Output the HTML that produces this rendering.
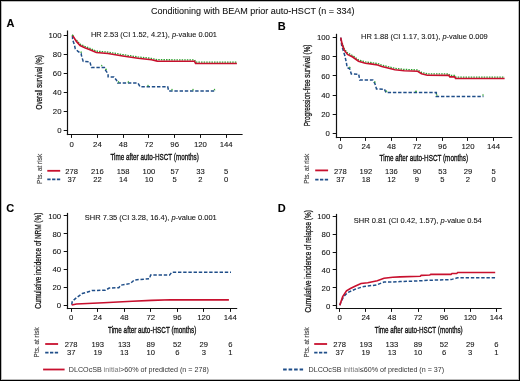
<!DOCTYPE html>
<html><head><meta charset="utf-8"><style>
html,body{margin:0;padding:0;background:#fff;}
#f{position:absolute;left:0;top:0;width:520px;height:381px;box-sizing:border-box;border:1px solid #000;box-shadow:inset 0 0 0 1px #bbb;overflow:hidden;background:#fff}
svg{position:absolute;left:0;top:0;will-change:transform}
text{font-family:"Liberation Sans",sans-serif;stroke:#000;stroke-width:0.08px;paint-order:stroke}
</style></head><body><div id="f"></div>
<svg width="520" height="381" viewBox="0 0 520 381">
<line x1="67.5" y1="30.5" x2="67.5" y2="135.1" stroke="#111" stroke-width="1.2" />
<line x1="66.9" y1="134.5" x2="242.6" y2="134.5" stroke="#111" stroke-width="1.2" />
<line x1="63.7" y1="130.5" x2="67.5" y2="130.5" stroke="#111" stroke-width="1" />
<text x="61.5" y="133.15" font-size="7.8" text-anchor="end" font-weight="normal" fill="#111" >0</text>
<line x1="63.7" y1="111.5" x2="67.5" y2="111.5" stroke="#111" stroke-width="1" />
<text x="61.5" y="114.17" font-size="7.8" text-anchor="end" font-weight="normal" fill="#111" >20</text>
<line x1="63.7" y1="92.5" x2="67.5" y2="92.5" stroke="#111" stroke-width="1" />
<text x="61.5" y="95.19" font-size="7.8" text-anchor="end" font-weight="normal" fill="#111" >40</text>
<line x1="63.7" y1="73.5" x2="67.5" y2="73.5" stroke="#111" stroke-width="1" />
<text x="61.5" y="76.21000000000001" font-size="7.8" text-anchor="end" font-weight="normal" fill="#111" >60</text>
<line x1="63.7" y1="54.5" x2="67.5" y2="54.5" stroke="#111" stroke-width="1" />
<text x="61.5" y="57.230000000000004" font-size="7.8" text-anchor="end" font-weight="normal" fill="#111" >80</text>
<line x1="63.7" y1="35.5" x2="67.5" y2="35.5" stroke="#111" stroke-width="1" />
<text x="61.5" y="38.25" font-size="7.8" text-anchor="end" font-weight="normal" fill="#111" >100</text>
<line x1="71.5" y1="134.5" x2="71.5" y2="137.9" stroke="#111" stroke-width="1" />
<text x="71.7" y="146.6" font-size="7.8" text-anchor="middle" font-weight="normal" fill="#111" >0</text>
<line x1="97.5" y1="134.5" x2="97.5" y2="137.9" stroke="#111" stroke-width="1" />
<text x="97.45" y="146.6" font-size="7.8" text-anchor="middle" font-weight="normal" fill="#111" >24</text>
<line x1="123.5" y1="134.5" x2="123.5" y2="137.9" stroke="#111" stroke-width="1" />
<text x="123.2" y="146.6" font-size="7.8" text-anchor="middle" font-weight="normal" fill="#111" >48</text>
<line x1="148.5" y1="134.5" x2="148.5" y2="137.9" stroke="#111" stroke-width="1" />
<text x="148.95" y="146.6" font-size="7.8" text-anchor="middle" font-weight="normal" fill="#111" >72</text>
<line x1="174.5" y1="134.5" x2="174.5" y2="137.9" stroke="#111" stroke-width="1" />
<text x="174.7" y="146.6" font-size="7.8" text-anchor="middle" font-weight="normal" fill="#111" >96</text>
<line x1="200.5" y1="134.5" x2="200.5" y2="137.9" stroke="#111" stroke-width="1" />
<text x="200.45" y="146.6" font-size="7.8" text-anchor="middle" font-weight="normal" fill="#111" >120</text>
<line x1="226.5" y1="134.5" x2="226.5" y2="137.9" stroke="#111" stroke-width="1" />
<text x="226.2" y="146.6" font-size="7.8" text-anchor="middle" font-weight="normal" fill="#111" >144</text>
<text x="6.4" y="26.8" font-size="11" text-anchor="start" font-weight="bold" fill="#000" >A</text>
<text x="91" y="36.8" font-size="7.5" text-anchor="start" font-weight="normal" fill="#111" textLength="126" lengthAdjust="spacingAndGlyphs" >HR 2.53 (CI 1.52, 4.21), <tspan font-style="italic">p</tspan>-value 0.001</text>
<text x="0" y="0" font-size="8.8" text-anchor="middle" fill="#111" style="stroke-width:0.25px" textLength="54.3" lengthAdjust="spacingAndGlyphs" transform="translate(42.4,82.25) rotate(-90)">Overall survival (%)</text>
<text x="110.4" y="159.9" font-size="9.8" text-anchor="start" font-weight="normal" fill="#111" textLength="88.4" lengthAdjust="spacingAndGlyphs" style="stroke-width:0.35px">Time after auto-HSCT (months)</text>
<text x="0" y="0" font-size="6.8" text-anchor="middle" fill="#444" style="stroke-width:0.15px;stroke:#444" textLength="30" lengthAdjust="spacingAndGlyphs" transform="translate(41.8,168.9) rotate(-90)">Pts. at risk</text>
<line x1="47.3" y1="170.8" x2="60.199999999999996" y2="170.8" stroke="#c8102e" stroke-width="1.8" />
<line x1="47.3" y1="179.4" x2="60.199999999999996" y2="179.4" stroke="#1f4e89" stroke-width="1.8" stroke-dasharray="3.3,1.5"/>
<text x="71.7" y="173.6" font-size="7.6" text-anchor="middle" font-weight="normal" fill="#111" >278</text>
<text x="71.7" y="182" font-size="7.6" text-anchor="middle" font-weight="normal" fill="#111" >37</text>
<text x="97.45" y="173.6" font-size="7.6" text-anchor="middle" font-weight="normal" fill="#111" >216</text>
<text x="97.45" y="182" font-size="7.6" text-anchor="middle" font-weight="normal" fill="#111" >22</text>
<text x="123.2" y="173.6" font-size="7.6" text-anchor="middle" font-weight="normal" fill="#111" >158</text>
<text x="123.2" y="182" font-size="7.6" text-anchor="middle" font-weight="normal" fill="#111" >14</text>
<text x="148.95" y="173.6" font-size="7.6" text-anchor="middle" font-weight="normal" fill="#111" >100</text>
<text x="148.95" y="182" font-size="7.6" text-anchor="middle" font-weight="normal" fill="#111" >10</text>
<text x="174.7" y="173.6" font-size="7.6" text-anchor="middle" font-weight="normal" fill="#111" >57</text>
<text x="174.7" y="182" font-size="7.6" text-anchor="middle" font-weight="normal" fill="#111" >5</text>
<text x="200.45" y="173.6" font-size="7.6" text-anchor="middle" font-weight="normal" fill="#111" >33</text>
<text x="200.45" y="182" font-size="7.6" text-anchor="middle" font-weight="normal" fill="#111" >2</text>
<text x="226.2" y="173.6" font-size="7.6" text-anchor="middle" font-weight="normal" fill="#111" >5</text>
<text x="226.2" y="182" font-size="7.6" text-anchor="middle" font-weight="normal" fill="#111" >0</text>
<line x1="336.5" y1="33.8" x2="336.5" y2="138.1" stroke="#111" stroke-width="1.2" />
<line x1="335.9" y1="137.5" x2="512.3" y2="137.5" stroke="#111" stroke-width="1.2" />
<line x1="332.7" y1="133.5" x2="336.5" y2="133.5" stroke="#111" stroke-width="1" />
<text x="329.90000000000003" y="135.95" font-size="7.8" text-anchor="end" font-weight="normal" fill="#111" >0</text>
<line x1="332.7" y1="114.5" x2="336.5" y2="114.5" stroke="#111" stroke-width="1" />
<text x="329.90000000000003" y="116.85" font-size="7.8" text-anchor="end" font-weight="normal" fill="#111" >20</text>
<line x1="332.7" y1="95.5" x2="336.5" y2="95.5" stroke="#111" stroke-width="1" />
<text x="329.90000000000003" y="97.75" font-size="7.8" text-anchor="end" font-weight="normal" fill="#111" >40</text>
<line x1="332.7" y1="75.5" x2="336.5" y2="75.5" stroke="#111" stroke-width="1" />
<text x="329.90000000000003" y="78.65" font-size="7.8" text-anchor="end" font-weight="normal" fill="#111" >60</text>
<line x1="332.7" y1="56.5" x2="336.5" y2="56.5" stroke="#111" stroke-width="1" />
<text x="329.90000000000003" y="59.55" font-size="7.8" text-anchor="end" font-weight="normal" fill="#111" >80</text>
<line x1="332.7" y1="37.5" x2="336.5" y2="37.5" stroke="#111" stroke-width="1" />
<text x="329.90000000000003" y="40.45" font-size="7.8" text-anchor="end" font-weight="normal" fill="#111" >100</text>
<line x1="340.5" y1="137.5" x2="340.5" y2="140.9" stroke="#111" stroke-width="1" />
<text x="340.4" y="148.9" font-size="7.8" text-anchor="middle" font-weight="normal" fill="#111" >0</text>
<line x1="365.5" y1="137.5" x2="365.5" y2="140.9" stroke="#111" stroke-width="1" />
<text x="365.91666666666663" y="148.9" font-size="7.8" text-anchor="middle" font-weight="normal" fill="#111" >24</text>
<line x1="391.5" y1="137.5" x2="391.5" y2="140.9" stroke="#111" stroke-width="1" />
<text x="391.43333333333334" y="148.9" font-size="7.8" text-anchor="middle" font-weight="normal" fill="#111" >48</text>
<line x1="416.5" y1="137.5" x2="416.5" y2="140.9" stroke="#111" stroke-width="1" />
<text x="416.95" y="148.9" font-size="7.8" text-anchor="middle" font-weight="normal" fill="#111" >72</text>
<line x1="442.5" y1="137.5" x2="442.5" y2="140.9" stroke="#111" stroke-width="1" />
<text x="442.46666666666664" y="148.9" font-size="7.8" text-anchor="middle" font-weight="normal" fill="#111" >96</text>
<line x1="467.5" y1="137.5" x2="467.5" y2="140.9" stroke="#111" stroke-width="1" />
<text x="467.98333333333335" y="148.9" font-size="7.8" text-anchor="middle" font-weight="normal" fill="#111" >120</text>
<line x1="493.5" y1="137.5" x2="493.5" y2="140.9" stroke="#111" stroke-width="1" />
<text x="493.5" y="148.9" font-size="7.8" text-anchor="middle" font-weight="normal" fill="#111" >144</text>
<text x="277.8" y="29.7" font-size="11" text-anchor="start" font-weight="bold" fill="#000" >B</text>
<text x="361" y="39.4" font-size="7.5" text-anchor="start" font-weight="normal" fill="#111" textLength="126.7" lengthAdjust="spacingAndGlyphs" >HR 1.88 (CI 1.17, 3.01), <tspan font-style="italic">p</tspan>-value 0.009</text>
<text x="0" y="0" font-size="8.8" text-anchor="middle" fill="#111" style="stroke-width:0.25px" textLength="81.7" lengthAdjust="spacingAndGlyphs" transform="translate(310.2,85.4) rotate(-90)">Progression-free survival (%)</text>
<text x="379.6" y="160.9" font-size="9.8" text-anchor="start" font-weight="normal" fill="#111" textLength="88.4" lengthAdjust="spacingAndGlyphs" style="stroke-width:0.35px">Time after auto-HSCT (months)</text>
<text x="0" y="0" font-size="6.8" text-anchor="middle" fill="#444" style="stroke-width:0.15px;stroke:#444" textLength="30" lengthAdjust="spacingAndGlyphs" transform="translate(309.4,168.8) rotate(-90)">Pts. at risk</text>
<line x1="315.2" y1="170.4" x2="328.09999999999997" y2="170.4" stroke="#c8102e" stroke-width="1.8" />
<line x1="315.2" y1="179.6" x2="328.09999999999997" y2="179.6" stroke="#1f4e89" stroke-width="1.8" stroke-dasharray="3.3,1.5"/>
<text x="340.4" y="173.7" font-size="7.6" text-anchor="middle" font-weight="normal" fill="#111" >278</text>
<text x="340.4" y="182" font-size="7.6" text-anchor="middle" font-weight="normal" fill="#111" >37</text>
<text x="365.91666666666663" y="173.7" font-size="7.6" text-anchor="middle" font-weight="normal" fill="#111" >192</text>
<text x="365.91666666666663" y="182" font-size="7.6" text-anchor="middle" font-weight="normal" fill="#111" >18</text>
<text x="391.43333333333334" y="173.7" font-size="7.6" text-anchor="middle" font-weight="normal" fill="#111" >136</text>
<text x="391.43333333333334" y="182" font-size="7.6" text-anchor="middle" font-weight="normal" fill="#111" >12</text>
<text x="416.95" y="173.7" font-size="7.6" text-anchor="middle" font-weight="normal" fill="#111" >90</text>
<text x="416.95" y="182" font-size="7.6" text-anchor="middle" font-weight="normal" fill="#111" >9</text>
<text x="442.46666666666664" y="173.7" font-size="7.6" text-anchor="middle" font-weight="normal" fill="#111" >53</text>
<text x="442.46666666666664" y="182" font-size="7.6" text-anchor="middle" font-weight="normal" fill="#111" >5</text>
<text x="467.98333333333335" y="173.7" font-size="7.6" text-anchor="middle" font-weight="normal" fill="#111" >29</text>
<text x="467.98333333333335" y="182" font-size="7.6" text-anchor="middle" font-weight="normal" fill="#111" >2</text>
<text x="493.5" y="173.7" font-size="7.6" text-anchor="middle" font-weight="normal" fill="#111" >5</text>
<text x="493.5" y="182" font-size="7.6" text-anchor="middle" font-weight="normal" fill="#111" >0</text>
<line x1="67.5" y1="212.9" x2="67.5" y2="309.1" stroke="#111" stroke-width="1.2" />
<line x1="66.9" y1="308.5" x2="237.2" y2="308.5" stroke="#111" stroke-width="1.2" />
<line x1="63.7" y1="305.5" x2="67.5" y2="305.5" stroke="#111" stroke-width="1" />
<text x="61.2" y="308.05" font-size="7.8" text-anchor="end" font-weight="normal" fill="#111" >0</text>
<line x1="63.7" y1="287.5" x2="67.5" y2="287.5" stroke="#111" stroke-width="1" />
<text x="61.2" y="290.17" font-size="7.8" text-anchor="end" font-weight="normal" fill="#111" >20</text>
<line x1="63.7" y1="269.5" x2="67.5" y2="269.5" stroke="#111" stroke-width="1" />
<text x="61.2" y="272.29" font-size="7.8" text-anchor="end" font-weight="normal" fill="#111" >40</text>
<line x1="63.7" y1="251.5" x2="67.5" y2="251.5" stroke="#111" stroke-width="1" />
<text x="61.2" y="254.41000000000003" font-size="7.8" text-anchor="end" font-weight="normal" fill="#111" >60</text>
<line x1="63.7" y1="233.5" x2="67.5" y2="233.5" stroke="#111" stroke-width="1" />
<text x="61.2" y="236.53000000000003" font-size="7.8" text-anchor="end" font-weight="normal" fill="#111" >80</text>
<line x1="63.7" y1="215.5" x2="67.5" y2="215.5" stroke="#111" stroke-width="1" />
<text x="61.2" y="218.65" font-size="7.8" text-anchor="end" font-weight="normal" fill="#111" >100</text>
<line x1="71.5" y1="308.5" x2="71.5" y2="311.9" stroke="#111" stroke-width="1" />
<text x="71.2" y="319.8" font-size="7.8" text-anchor="middle" font-weight="normal" fill="#111" >0</text>
<line x1="97.5" y1="308.5" x2="97.5" y2="311.9" stroke="#111" stroke-width="1" />
<text x="97.71666666666667" y="319.8" font-size="7.8" text-anchor="middle" font-weight="normal" fill="#111" >24</text>
<line x1="124.5" y1="308.5" x2="124.5" y2="311.9" stroke="#111" stroke-width="1" />
<text x="124.23333333333335" y="319.8" font-size="7.8" text-anchor="middle" font-weight="normal" fill="#111" >48</text>
<line x1="150.5" y1="308.5" x2="150.5" y2="311.9" stroke="#111" stroke-width="1" />
<text x="150.75" y="319.8" font-size="7.8" text-anchor="middle" font-weight="normal" fill="#111" >72</text>
<line x1="177.5" y1="308.5" x2="177.5" y2="311.9" stroke="#111" stroke-width="1" />
<text x="177.26666666666668" y="319.8" font-size="7.8" text-anchor="middle" font-weight="normal" fill="#111" >96</text>
<line x1="203.5" y1="308.5" x2="203.5" y2="311.9" stroke="#111" stroke-width="1" />
<text x="203.78333333333336" y="319.8" font-size="7.8" text-anchor="middle" font-weight="normal" fill="#111" >120</text>
<line x1="230.5" y1="308.5" x2="230.5" y2="311.9" stroke="#111" stroke-width="1" />
<text x="230.3" y="319.8" font-size="7.8" text-anchor="middle" font-weight="normal" fill="#111" >144</text>
<text x="6.3" y="212.3" font-size="11" text-anchor="start" font-weight="bold" fill="#000" >C</text>
<text x="84.8" y="219.6" font-size="7.5" text-anchor="start" font-weight="normal" fill="#111" textLength="132" lengthAdjust="spacingAndGlyphs" >SHR 7.35 (CI 3.28, 16.4), <tspan font-style="italic">p</tspan>-value 0.001</text>
<text x="0" y="0" font-size="8.8" text-anchor="middle" fill="#111" style="stroke-width:0.25px" textLength="96" lengthAdjust="spacingAndGlyphs" transform="translate(41,260.7) rotate(-90)">Cumulative incidence of NRM (%)</text>
<text x="108" y="332.7" font-size="9.8" text-anchor="start" font-weight="normal" fill="#111" textLength="88.4" lengthAdjust="spacingAndGlyphs" style="stroke-width:0.35px">Time after auto-HSCT (months)</text>
<text x="0" y="0" font-size="6.8" text-anchor="middle" fill="#444" style="stroke-width:0.15px;stroke:#444" textLength="30" lengthAdjust="spacingAndGlyphs" transform="translate(39.4,342.4) rotate(-90)">Pts. at risk</text>
<line x1="45.2" y1="344" x2="58.1" y2="344" stroke="#c8102e" stroke-width="1.8" />
<line x1="45.2" y1="352.7" x2="58.1" y2="352.7" stroke="#1f4e89" stroke-width="1.8" stroke-dasharray="3.3,1.5"/>
<text x="71.2" y="347.1" font-size="7.6" text-anchor="middle" font-weight="normal" fill="#111" >278</text>
<text x="71.2" y="355.2" font-size="7.6" text-anchor="middle" font-weight="normal" fill="#111" >37</text>
<text x="97.71666666666667" y="347.1" font-size="7.6" text-anchor="middle" font-weight="normal" fill="#111" >193</text>
<text x="97.71666666666667" y="355.2" font-size="7.6" text-anchor="middle" font-weight="normal" fill="#111" >19</text>
<text x="124.23333333333335" y="347.1" font-size="7.6" text-anchor="middle" font-weight="normal" fill="#111" >133</text>
<text x="124.23333333333335" y="355.2" font-size="7.6" text-anchor="middle" font-weight="normal" fill="#111" >13</text>
<text x="150.75" y="347.1" font-size="7.6" text-anchor="middle" font-weight="normal" fill="#111" >89</text>
<text x="150.75" y="355.2" font-size="7.6" text-anchor="middle" font-weight="normal" fill="#111" >10</text>
<text x="177.26666666666668" y="347.1" font-size="7.6" text-anchor="middle" font-weight="normal" fill="#111" >52</text>
<text x="177.26666666666668" y="355.2" font-size="7.6" text-anchor="middle" font-weight="normal" fill="#111" >6</text>
<text x="203.78333333333336" y="347.1" font-size="7.6" text-anchor="middle" font-weight="normal" fill="#111" >29</text>
<text x="203.78333333333336" y="355.2" font-size="7.6" text-anchor="middle" font-weight="normal" fill="#111" >3</text>
<text x="230.3" y="347.1" font-size="7.6" text-anchor="middle" font-weight="normal" fill="#111" >6</text>
<text x="230.3" y="355.2" font-size="7.6" text-anchor="middle" font-weight="normal" fill="#111" >1</text>
<line x1="336.5" y1="213.9" x2="336.5" y2="309.1" stroke="#111" stroke-width="1.2" />
<line x1="335.9" y1="308.5" x2="501.7" y2="308.5" stroke="#111" stroke-width="1.2" />
<line x1="332.7" y1="305.5" x2="336.5" y2="305.5" stroke="#111" stroke-width="1" />
<text x="330.3" y="308.55" font-size="7.8" text-anchor="end" font-weight="normal" fill="#111" >0</text>
<line x1="332.7" y1="287.5" x2="336.5" y2="287.5" stroke="#111" stroke-width="1" />
<text x="330.3" y="290.63" font-size="7.8" text-anchor="end" font-weight="normal" fill="#111" >20</text>
<line x1="332.7" y1="269.5" x2="336.5" y2="269.5" stroke="#111" stroke-width="1" />
<text x="330.3" y="272.71" font-size="7.8" text-anchor="end" font-weight="normal" fill="#111" >40</text>
<line x1="332.7" y1="252.5" x2="336.5" y2="252.5" stroke="#111" stroke-width="1" />
<text x="330.3" y="254.79" font-size="7.8" text-anchor="end" font-weight="normal" fill="#111" >60</text>
<line x1="332.7" y1="234.5" x2="336.5" y2="234.5" stroke="#111" stroke-width="1" />
<text x="330.3" y="236.87" font-size="7.8" text-anchor="end" font-weight="normal" fill="#111" >80</text>
<line x1="332.7" y1="216.5" x2="336.5" y2="216.5" stroke="#111" stroke-width="1" />
<text x="330.3" y="218.95" font-size="7.8" text-anchor="end" font-weight="normal" fill="#111" >100</text>
<line x1="339.5" y1="308.5" x2="339.5" y2="311.9" stroke="#111" stroke-width="1" />
<text x="339.7" y="320.1" font-size="7.8" text-anchor="middle" font-weight="normal" fill="#111" >0</text>
<line x1="365.5" y1="308.5" x2="365.5" y2="311.9" stroke="#111" stroke-width="1" />
<text x="365.8" y="320.1" font-size="7.8" text-anchor="middle" font-weight="normal" fill="#111" >24</text>
<line x1="391.5" y1="308.5" x2="391.5" y2="311.9" stroke="#111" stroke-width="1" />
<text x="391.9" y="320.1" font-size="7.8" text-anchor="middle" font-weight="normal" fill="#111" >48</text>
<line x1="418.5" y1="308.5" x2="418.5" y2="311.9" stroke="#111" stroke-width="1" />
<text x="418.0" y="320.1" font-size="7.8" text-anchor="middle" font-weight="normal" fill="#111" >72</text>
<line x1="444.5" y1="308.5" x2="444.5" y2="311.9" stroke="#111" stroke-width="1" />
<text x="444.1" y="320.1" font-size="7.8" text-anchor="middle" font-weight="normal" fill="#111" >96</text>
<line x1="470.5" y1="308.5" x2="470.5" y2="311.9" stroke="#111" stroke-width="1" />
<text x="470.20000000000005" y="320.1" font-size="7.8" text-anchor="middle" font-weight="normal" fill="#111" >120</text>
<line x1="496.5" y1="308.5" x2="496.5" y2="311.9" stroke="#111" stroke-width="1" />
<text x="496.3" y="320.1" font-size="7.8" text-anchor="middle" font-weight="normal" fill="#111" >144</text>
<text x="277.8" y="212.2" font-size="11" text-anchor="start" font-weight="bold" fill="#000" >D</text>
<text x="353.8" y="223" font-size="7.5" text-anchor="start" font-weight="normal" fill="#111" textLength="128" lengthAdjust="spacingAndGlyphs" >SHR 0.81 (CI 0.42, 1.57), <tspan font-style="italic">p</tspan>-value 0.54</text>
<text x="0" y="0" font-size="8.8" text-anchor="middle" fill="#111" style="stroke-width:0.25px" textLength="102.3" lengthAdjust="spacingAndGlyphs" transform="translate(310.7,261.35) rotate(-90)">Cumulative incidence of relapse (%)</text>
<text x="374.8" y="332.7" font-size="9.8" text-anchor="start" font-weight="normal" fill="#111" textLength="87.9" lengthAdjust="spacingAndGlyphs" style="stroke-width:0.35px">Time after auto-HSCT (months)</text>
<text x="0" y="0" font-size="6.8" text-anchor="middle" fill="#444" style="stroke-width:0.15px;stroke:#444" textLength="30" lengthAdjust="spacingAndGlyphs" transform="translate(308.8,342.4) rotate(-90)">Pts. at risk</text>
<line x1="314.2" y1="344" x2="327.09999999999997" y2="344" stroke="#c8102e" stroke-width="1.8" />
<line x1="314.2" y1="352.7" x2="327.09999999999997" y2="352.7" stroke="#1f4e89" stroke-width="1.8" stroke-dasharray="3.3,1.5"/>
<text x="339.7" y="347.1" font-size="7.6" text-anchor="middle" font-weight="normal" fill="#111" >278</text>
<text x="339.7" y="355.2" font-size="7.6" text-anchor="middle" font-weight="normal" fill="#111" >37</text>
<text x="365.8" y="347.1" font-size="7.6" text-anchor="middle" font-weight="normal" fill="#111" >193</text>
<text x="365.8" y="355.2" font-size="7.6" text-anchor="middle" font-weight="normal" fill="#111" >19</text>
<text x="391.9" y="347.1" font-size="7.6" text-anchor="middle" font-weight="normal" fill="#111" >133</text>
<text x="391.9" y="355.2" font-size="7.6" text-anchor="middle" font-weight="normal" fill="#111" >13</text>
<text x="418.0" y="347.1" font-size="7.6" text-anchor="middle" font-weight="normal" fill="#111" >89</text>
<text x="418.0" y="355.2" font-size="7.6" text-anchor="middle" font-weight="normal" fill="#111" >10</text>
<text x="444.1" y="347.1" font-size="7.6" text-anchor="middle" font-weight="normal" fill="#111" >52</text>
<text x="444.1" y="355.2" font-size="7.6" text-anchor="middle" font-weight="normal" fill="#111" >6</text>
<text x="470.20000000000005" y="347.1" font-size="7.6" text-anchor="middle" font-weight="normal" fill="#111" >29</text>
<text x="470.20000000000005" y="355.2" font-size="7.6" text-anchor="middle" font-weight="normal" fill="#111" >3</text>
<text x="496.3" y="347.1" font-size="7.6" text-anchor="middle" font-weight="normal" fill="#111" >6</text>
<text x="496.3" y="355.2" font-size="7.6" text-anchor="middle" font-weight="normal" fill="#111" >1</text>
<text x="151" y="13.65" font-size="9" text-anchor="start" font-weight="normal" fill="#111" textLength="203.6" lengthAdjust="spacingAndGlyphs" >Conditioning with BEAM prior auto-HSCT (n = 334)</text>
<path d="M76.4,40.0 L80.1,44.2 L84.8,46.3 L90.0,48.4 L96.3,51.1 L107.9,52.1 L122.7,54.6 L138.0,56.9 L151.5,58.4 L157.3,59.7 L194.6,59.9 L195.6,62.1 L236.9,62.1" fill="none" stroke="#2ca02c" stroke-width="1.3" stroke-linejoin="miter" stroke-dasharray="1.5,1.1"/>
<path d="M72.4,35.7 L72.7,39.9 L74.3,44.6 L75.3,48.8 L78.0,51.4 L81.1,53.5 L81.6,56.1 L83.2,61.4 L90.0,61.9 L91.1,66.6 L91.5,67.6 L104.4,67.6 L105.5,70.2 L108.1,73.9 L108.1,76.8 L113.9,77.0 L116.5,80.2 L117.6,83.1 L138.0,83.1 L140.0,86.7 L167.7,86.7 L168.7,91.0 L215.8,91.0" fill="none" stroke="#1f4e89" stroke-width="1.5" stroke-linejoin="miter" stroke-dasharray="3.4,1.8"/>
<path d="M72.4,35.1 L76.4,41.4 L80.1,45.6 L84.8,47.7 L90.0,49.8 L96.3,52.5 L107.9,53.5 L122.7,56.0 L138.0,58.3 L151.5,59.8 L157.3,61.1 L194.6,61.3 L195.6,63.5 L236.9,63.5" fill="none" stroke="#c8102e" stroke-width="1.65" stroke-linejoin="miter" />
<path d="M342.2,43.0 L344.3,48.8 L347.5,53.0 L352.7,55.6 L358.5,59.8 L365.3,61.9 L370.6,62.5 L377.6,63.6 L381.8,65.1 L395.0,68.4 L404.2,69.4 L417.7,69.9 L421.5,72.4 L427.3,73.8 L448.8,74.0 L449.8,75.5 L454.6,75.5 L455.6,77.1 L504.6,77.1" fill="none" stroke="#2ca02c" stroke-width="1.3" stroke-linejoin="miter" stroke-dasharray="1.5,1.1"/>
<path d="M340.7,37.6 L341.7,45.5 L343.3,50.7 L344.9,56.0 L346.4,62.8 L347.1,67.5 L349.7,68.7 L351.3,73.9 L358.7,74.2 L359.7,80.0 L372.8,80.0 L374.9,83.6 L376.5,88.9 L384.4,89.2 L386.0,92.6 L436.3,92.6 L436.3,96.5 L483.5,96.5" fill="none" stroke="#1f4e89" stroke-width="1.5" stroke-linejoin="miter" stroke-dasharray="3.4,1.8"/>
<path d="M340.7,37.6 L342.2,44.4 L344.3,50.2 L347.5,54.4 L352.7,57.0 L358.5,61.2 L365.3,63.3 L370.6,63.9 L377.6,65.0 L381.8,66.5 L395.0,69.8 L404.2,70.8 L417.7,71.3 L421.5,73.8 L427.3,75.2 L448.8,75.4 L449.8,76.9 L454.6,76.9 L455.6,78.5 L504.6,78.5" fill="none" stroke="#c8102e" stroke-width="1.65" stroke-linejoin="miter" />
<path d="M71.7,304.6 L72.3,301.2 L76.5,297.7 L82.3,293.5 L86.2,292.5 L91.9,290.6 L105.4,290.2 L109.2,288.1 L118.8,287.7 L120.8,285.2 L130.4,283.5 L134.2,280.0 L149.5,278.7 L150.6,275.1 L169.6,275.1 L171.7,272.3 L231.0,272.3" fill="none" stroke="#1f4e89" stroke-width="1.5" stroke-linejoin="miter" stroke-dasharray="3.4,1.8"/>
<path d="M71.7,305.0 L76.5,304.0 L103.5,302.7 L132.3,301.2 L151.5,300.4 L170.7,299.8 L228.9,299.8" fill="none" stroke="#c8102e" stroke-width="1.65" stroke-linejoin="miter" />
<path d="M339.8,305.2 L340.8,302.3 L343.7,296.5 L347.5,292.7 L356.2,288.8 L363.8,286.5 L376.3,285.0 L384.0,282.1 L392.7,282.1 L400.0,281.5 L411.5,281.2 L430.8,280.2 L451.0,279.6 L455.8,278.3 L457.7,277.7 L495.2,277.7" fill="none" stroke="#1f4e89" stroke-width="1.5" stroke-linejoin="miter" stroke-dasharray="3.4,1.8"/>
<path d="M339.8,305.2 L342.7,296.5 L346.5,290.8 L350.4,288.5 L355.0,286.3 L361.0,283.5 L367.7,282.7 L377.3,280.8 L384.0,278.3 L392.7,277.3 L400.0,276.9 L420.2,276.3 L421.2,275.4 L429.8,275.0 L430.8,274.4 L451.0,274.4 L452.0,273.5 L456.7,273.5 L457.7,272.5 L495.2,272.5" fill="none" stroke="#c8102e" stroke-width="1.65" stroke-linejoin="miter" />
<path d="M71.7,35.9 L72.7,34.1 L73.7,35.9Z" fill="#2ca02c"/>
<path d="M80.1,52.8 L81.1,51.0 L82.1,52.8Z" fill="#2ca02c"/>
<path d="M100.7,66.3 L101.7,64.5 L102.7,66.3Z" fill="#2ca02c"/>
<path d="M105.0,69.9 L106.0,68.1 L107.0,69.9Z" fill="#2ca02c"/>
<path d="M117.6,82.6 L118.6,80.8 L119.6,82.6Z" fill="#2ca02c"/>
<path d="M127.3,82.6 L128.3,80.8 L129.3,82.6Z" fill="#2ca02c"/>
<path d="M147.0,86.2 L148.0,84.4 L149.0,86.2Z" fill="#2ca02c"/>
<path d="M171.0,90.2 L172.0,88.4 L173.0,90.2Z" fill="#2ca02c"/>
<path d="M192.0,90.2 L193.0,88.4 L194.0,90.2Z" fill="#2ca02c"/>
<path d="M213.5,90.2 L214.5,88.4 L215.5,90.2Z" fill="#2ca02c"/>
<path d="M348.8,68.0 L349.8,66.2 L350.8,68.0Z" fill="#2ca02c"/>
<path d="M373.9,82.6 L374.9,80.8 L375.9,82.6Z" fill="#2ca02c"/>
<path d="M385.5,91.8 L386.5,90.0 L387.5,91.8Z" fill="#2ca02c"/>
<path d="M415.0,91.9 L416.0,90.1 L417.0,91.9Z" fill="#2ca02c"/>
<path d="M435.8,95.6 L436.8,93.8 L437.8,95.6Z" fill="#2ca02c"/>
<path d="M482.0,95.6 L483.0,93.8 L484.0,95.6Z" fill="#2ca02c"/>
<line x1="43.1" y1="369.5" x2="64.6" y2="369.5" stroke="#c8102e" stroke-width="1.8" />
<text x="68.8" y="371.5" font-size="7.6" text-anchor="start" font-weight="normal" fill="#333" textLength="140" lengthAdjust="spacingAndGlyphs" style="stroke-width:0">DLCOcSB <tspan fill="#777">initial</tspan>&gt;60% of predicted (n = 278)</text>
<line x1="283.1" y1="369.5" x2="303.1" y2="369.5" stroke="#1f4e89" stroke-width="1.8" stroke-dasharray="3.6,1.9"/>
<text x="308.5" y="371.5" font-size="7.6" text-anchor="start" font-weight="normal" fill="#333" textLength="135.7" lengthAdjust="spacingAndGlyphs" style="stroke-width:0">DLCOcSB <tspan fill="#777">initial</tspan>≤60% of predicted (n = 37)</text>
</svg></body></html>
